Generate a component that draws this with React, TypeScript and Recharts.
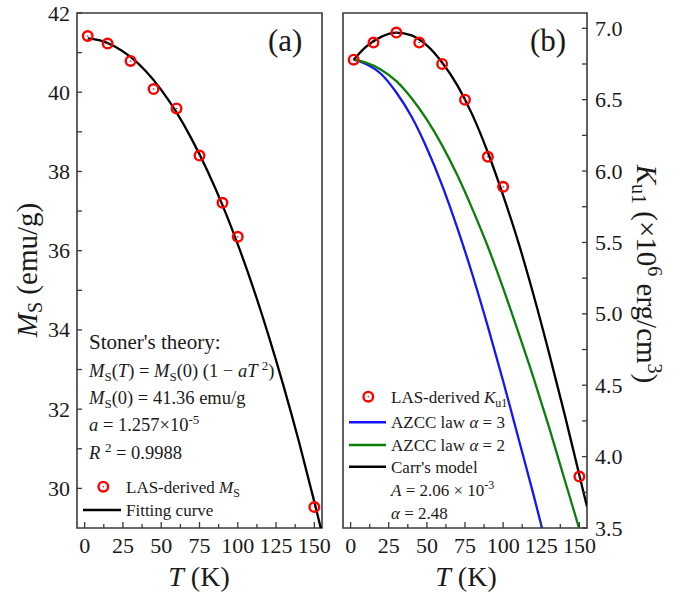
import React from "react";
import { ComposedChart, Line, Scatter, XAxis, YAxis, ReferenceArea } from "recharts";

const FONT = "'Liberation Serif', 'Times New Roman', serif";
const FRAME = "#3a3a3a";
const INK = "#1a1a1a";
const RED = "#ff0000";
const BLUE = "#1414ff";
const GREEN = "#0a800a";

// (a) saturation magnetisation vs temperature
const tempMeasured = [2, 15, 30, 45, 60, 75, 90, 100, 150];
const msMeasured = [41.42, 41.23, 40.79, 40.08, 39.59, 38.4, 37.21, 36.35, 29.53];
const curveTemps = [2, 10, 20, 30, 40, 50, 60, 70, 80, 90, 100, 110, 120, 130, 140, 150, 155];
const msFit = [41.36, 41.31, 41.15, 40.89, 40.53, 40.06, 39.49, 38.81, 38.03, 37.15, 36.16, 35.07, 33.87, 32.57, 31.17, 29.66, 28.87];

// (b) anisotropy constant Ku1 vs temperature
const kMeasured = [6.78, 6.9, 6.97, 6.9, 6.75, 6.5, 6.1, 5.89, 3.86];
const kAzcc3 = [6.78, 6.75, 6.68, 6.55, 6.38, 6.16, 5.9, 5.6, 5.27, 4.91, 4.53, 4.13, 3.73, 3.31, 2.9, 2.5, 2.31];
const kAzcc2 = [6.78, 6.76, 6.71, 6.63, 6.51, 6.36, 6.18, 5.97, 5.73, 5.47, 5.18, 4.87, 4.55, 4.21, 3.85, 3.49, 3.3];
const kCarr = [6.78, 6.87, 6.94, 6.97, 6.95, 6.88, 6.76, 6.6, 6.39, 6.13, 5.83, 5.5, 5.13, 4.73, 4.31, 3.87, 3.65];

const xTicks = [0, 12.5, 25, 37.5, 50, 62.5, 75, 87.5, 100, 112.5, 125, 137.5, 150];
const msTicks = [30, 31, 32, 33, 34, 35, 36, 37, 38, 39, 40, 41, 42];
const kTicks = [3.5, 3.75, 4, 4.25, 4.5, 4.75, 5, 5.25, 5.5, 5.75, 6, 6.25, 6.5, 6.75, 7];

const toRows = (xs: number[], ys: number[]) => xs.map((T, i) => ({ T, v: ys[i] }));

const isMultiple = (v: number, step: number) => Math.abs(v / step - Math.round(v / step)) < 1e-6;

function BottomTick(props: any) {
  const { x, y, payload } = props;
  const v = payload.value;
  const major = isMultiple(v, 25);
  return (
    <g>
      <line x1={x} y1={y} x2={x} y2={y - (major ? 6 : 4)} stroke={FRAME} strokeWidth={1.3} />
      {major && (
        <text x={x} y={y + 25} textAnchor="middle" fontFamily={FONT} fontSize={22} fill={INK}>
          {v}
        </text>
      )}
    </g>
  );
}

function LeftTickA(props: any) {
  const { x, y, payload } = props;
  const v = payload.value;
  return (
    <g>
      <line x1={x} y1={y} x2={x + 5} y2={y} stroke={FRAME} strokeWidth={1.3} />
      {isMultiple(v, 2) && (
        <text x={x - 7} y={y + 7.5} textAnchor="end" fontFamily={FONT} fontSize={22} fill={INK}>
          {v}
        </text>
      )}
    </g>
  );
}

function RightTickB(props: any) {
  const { x, y, payload } = props;
  const v = payload.value;
  return (
    <g>
      <line x1={x} y1={y} x2={x - 5} y2={y} stroke={FRAME} strokeWidth={1.3} />
      {isMultiple(v, 0.5) && (
        <text x={x + 8} y={y + 7.5} textAnchor="start" fontFamily={FONT} fontSize={22} fill={INK}>
          {v.toFixed(1)}
        </text>
      )}
    </g>
  );
}

function MirrorTickB(props: any) {
  const { x, y } = props;
  return <line x1={x} y1={y} x2={x + 5} y2={y} stroke={FRAME} strokeWidth={1.3} />;
}

function OpenCircle(props: any) {
  const { cx, cy } = props;
  return (
    <g>
      <circle cx={cx} cy={cy} r={4.8} fill="none" stroke={RED} strokeWidth={2.4} />
      <circle cx={cx} cy={cy} r={0.8} fill={RED} />
    </g>
  );
}

function PanelA() {
  return (
    <ComposedChart width={345} height={593} margin={{ top: 13, right: 23, bottom: 0, left: 0 }}>
      <XAxis type="number" dataKey="T" domain={[-5, 155]} ticks={xTicks} interval={0} allowDataOverflow
        height={65} axisLine={false} tickLine={false} tickSize={0} tickMargin={0} tick={<BottomTick />} />
      <YAxis type="number" domain={[29, 42]} ticks={msTicks} interval={0} allowDataOverflow
        width={77} axisLine={false} tickLine={false} tickSize={0} tickMargin={0} tick={<LeftTickA />} />
      <ReferenceArea x1={-5} x2={155} y1={29} y2={42} fill="none" stroke={FRAME} strokeWidth={1.6} ifOverflow="visible" />
      <Line data={toRows(curveTemps, msFit)} dataKey="v" type="monotone" stroke="#000" strokeWidth={2.3}
        dot={false} activeDot={false} isAnimationActive={false} />
      <Scatter data={toRows(tempMeasured, msMeasured)} dataKey="v" shape={<OpenCircle />} isAnimationActive={false} />
    </ComposedChart>
  );
}

function PanelB() {
  return (
    <ComposedChart width={359} height={593} margin={{ top: 13, right: 0, bottom: 0, left: 13 }}>
      <XAxis type="number" dataKey="T" domain={[-5, 155]} ticks={xTicks} interval={0} allowDataOverflow
        height={65} axisLine={false} tickLine={false} tickSize={0} tickMargin={0} tick={<BottomTick />} />
      <YAxis yAxisId="k" orientation="right" type="number" domain={[3.5, 7.107]} ticks={kTicks} interval={0} allowDataOverflow
        width={102} axisLine={false} tickLine={false} tickSize={0} tickMargin={0} tick={<RightTickB />} />
      <YAxis yAxisId="m" orientation="left" type="number" domain={[3.5, 7.107]} ticks={kTicks} interval={0} allowDataOverflow
        width={0} axisLine={false} tickLine={false} tickSize={0} tickMargin={0} tick={<MirrorTickB />} />
      <ReferenceArea yAxisId="k" x1={-5} x2={155} y1={3.5} y2={7.107} fill="none" stroke={FRAME} strokeWidth={1.6} ifOverflow="visible" />
      <Line yAxisId="k" data={toRows(curveTemps, kAzcc3)} dataKey="v" type="monotone" stroke={BLUE} strokeWidth={2.3}
        dot={false} activeDot={false} isAnimationActive={false} />
      <Line yAxisId="k" data={toRows(curveTemps, kAzcc2)} dataKey="v" type="monotone" stroke={GREEN} strokeWidth={2.3}
        dot={false} activeDot={false} isAnimationActive={false} />
      <Line yAxisId="k" data={toRows(curveTemps, kCarr)} dataKey="v" type="monotone" stroke="#000" strokeWidth={2.3}
        dot={false} activeDot={false} isAnimationActive={false} />
      <Scatter yAxisId="k" data={toRows(tempMeasured, kMeasured)} dataKey="v" shape={<OpenCircle />} isAnimationActive={false} />
    </ComposedChart>
  );
}

function Overlay() {
  const it = { fontStyle: "italic" as const };
  return (
    <svg width={689} height={593} style={{ position: "absolute", left: 0, top: 0, pointerEvents: "none" }}
      fontFamily={FONT} fill={INK}>
      <text x={268} y={51} fontSize={31}>(a)</text>
      <text x={530} y={51} fontSize={31}>(b)</text>

      <text transform="translate(37,270) rotate(-90)" textAnchor="middle" fontSize={29}>
        <tspan {...it}>M</tspan>
        <tspan fontSize={20} dy={5}>S</tspan>
        <tspan dy={-5}> (emu/g)</tspan>
      </text>
      <text transform="translate(637,274) rotate(90)" textAnchor="middle" fontSize={29}>
        <tspan {...it}>K</tspan>
        <tspan fontSize={20} dy={5}>u1</tspan>
        <tspan dy={-5}> (×10</tspan>
        <tspan fontSize={20} dy={-11}>6</tspan>
        <tspan dy={11}> erg/cm</tspan>
        <tspan fontSize={20} dy={-11}>3</tspan>
        <tspan dy={11}>)</tspan>
      </text>
      <text x={199} y={586} textAnchor="middle" fontSize={28}>
        <tspan {...it}>T</tspan> (K)
      </text>
      <text x={466} y={586} textAnchor="middle" fontSize={28}>
        <tspan {...it}>T</tspan> (K)
      </text>

      <text x={89} y={349} fontSize={21}>Stoner's theory:</text>
      <text x={89} y={377} fontSize={18.5}>
        <tspan {...it}>M</tspan>
        <tspan fontSize={13} dy={4}>S</tspan>
        <tspan dy={-4}>(</tspan>
        <tspan {...it}>T</tspan>
        <tspan>) = </tspan>
        <tspan {...it}>M</tspan>
        <tspan fontSize={13} dy={4}>S</tspan>
        <tspan dy={-4}>(0) (1 − </tspan>
        <tspan {...it}>aT </tspan>
        <tspan fontSize={13} dy={-7}>2</tspan>
        <tspan dy={7}>)</tspan>
      </text>
      <text x={89} y={404} fontSize={18.5}>
        <tspan {...it}>M</tspan>
        <tspan fontSize={13} dy={4}>S</tspan>
        <tspan dy={-4}>(0) = 41.36 emu/g</tspan>
      </text>
      <text x={89} y={431} fontSize={18.5}>
        <tspan {...it}>a</tspan>
        <tspan> = 1.257×10</tspan>
        <tspan fontSize={13} dy={-7}>-5</tspan>
      </text>
      <text x={89} y={459} fontSize={18.5}>
        <tspan {...it}>R </tspan>
        <tspan fontSize={13} dy={-7}>2</tspan>
        <tspan dy={7}> = 0.9988</tspan>
      </text>

      <circle cx={103.3} cy={486.7} r={4.8} fill="none" stroke={RED} strokeWidth={2.4} />
      <circle cx={103.3} cy={486.7} r={0.8} fill={RED} />
      <text x={126} y={492.5} fontSize={17}>
        <tspan>LAS-derived </tspan>
        <tspan {...it}>M</tspan>
        <tspan fontSize={12} dy={4}>S</tspan>
      </text>
      <line x1={83} x2={121} y1={510} y2={510} stroke="#000" strokeWidth={2.6} />
      <text x={126} y={516} fontSize={17}>Fitting curve</text>

      <circle cx={368.3} cy={396.7} r={4.8} fill="none" stroke={RED} strokeWidth={2.4} />
      <circle cx={368.3} cy={396.7} r={0.8} fill={RED} />
      <text x={391} y={402.5} fontSize={17}>
        <tspan>LAS-derived </tspan>
        <tspan {...it}>K</tspan>
        <tspan fontSize={12} dy={4}>u1</tspan>
      </text>
      <line x1={349} x2={386} y1={422.3} y2={422.3} stroke={BLUE} strokeWidth={2.6} />
      <text x={391} y={428} fontSize={17}>
        <tspan>AZCC law </tspan>
        <tspan {...it}>α</tspan>
        <tspan> = 3</tspan>
      </text>
      <line x1={349} x2={386} y1={445} y2={445} stroke={GREEN} strokeWidth={2.6} />
      <text x={391} y={451} fontSize={17}>
        <tspan>AZCC law </tspan>
        <tspan {...it}>α</tspan>
        <tspan> = 2</tspan>
      </text>
      <line x1={349} x2={386} y1={466.7} y2={466.7} stroke="#000" strokeWidth={2.6} />
      <text x={391} y={472.5} fontSize={17}>Carr's model</text>
      <text x={391} y={496} fontSize={17}>
        <tspan {...it}>A</tspan>
        <tspan> = 2.06 × 10</tspan>
        <tspan fontSize={12} dy={-7}>-3</tspan>
      </text>
      <text x={391} y={518.5} fontSize={17}>
        <tspan {...it}>α</tspan>
        <tspan> = 2.48</tspan>
      </text>
    </svg>
  );
}

export default function App() {
  return (
    <div style={{ position: "absolute", left: 0, top: 0, width: 689, height: 593, background: "#fff", overflow: "hidden" }}>
      <div style={{ position: "absolute", left: 0, top: 0 }}>
        <PanelA />
      </div>
      <div style={{ position: "absolute", left: 330, top: 0 }}>
        <PanelB />
      </div>
      <Overlay />
    </div>
  );
}
